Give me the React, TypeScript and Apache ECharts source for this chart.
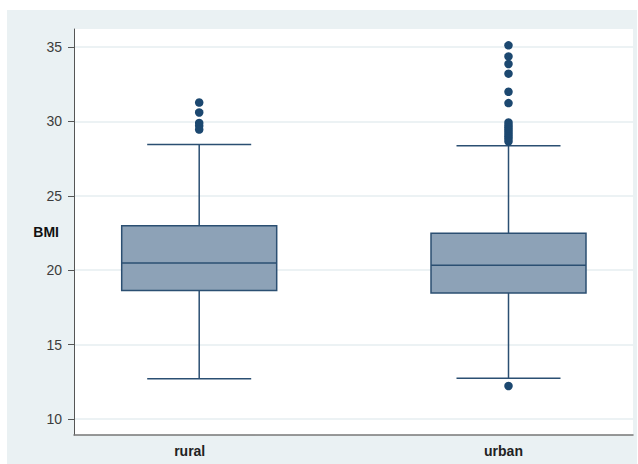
import React, { useEffect, useRef } from "react";
import * as echarts from "echarts";

const categories = ["rural", "urban"];
// [min whisker, Q1, median, Q3, max whisker]
const ruralBox = [12.71, 18.63, 20.49, 22.98, 28.45];
const urbanBox = [12.73, 18.47, 20.34, 22.49, 28.36];
const ruralOutliers = [31.27, 30.6, 29.9, 29.7, 29.45];
const urbanOutliers = [
  35.11, 34.37, 33.86, 33.21, 31.99, 31.23, 29.93, 29.75, 29.6, 29.45, 29.3,
  29.15, 29.0, 28.85, 28.65, 12.22,
];
const yTicks = [10, 15, 20, 25, 30, 35];
const yMin = 8.924;
const yMax = 36.21;

export default function App() {
  const ref = useRef<HTMLDivElement>(null);
  useEffect(() => {
    if (!ref.current) return;
    const chart = echarts.init(ref.current, null, { renderer: "svg" });
    const boxData = [ruralBox, urbanBox].map((b, i) => [i, ...b]);
    const outlierData = [
      ...ruralOutliers.map((v) => [0, v]),
      ...urbanOutliers.map((v) => [1, v]),
    ];
    const stroke = "#2b4f72";
    chart.setOption({
      animation: false,
      backgroundColor: "#eaf1f3",
      grid: [
        {
          left: 67,
          top: 19,
          width: 559,
          height: 406,
          show: true,
          backgroundColor: "#ffffff",
          borderWidth: 0,
        },
        { left: 192.2, top: 19, width: 309.3, height: 406 },
      ],
      xAxis: [
        {
          gridIndex: 0,
          type: "value",
          min: 0,
          max: 1,
          axisLine: { show: true, onZero: false, lineStyle: { color: "#777", width: 1.5 } },
          axisTick: { show: false },
          axisLabel: { show: false },
          splitLine: { show: false },
        },
        {
          gridIndex: 1,
          type: "category",
          data: categories,
          boundaryGap: false,
          axisLine: { show: false },
          axisTick: { show: false },
          splitLine: { show: false },
          axisLabel: {
            margin: 9,
            formatter: (v: string) => (v === "rural" ? `{a|${v}}` : `{b|${v}}`),
            rich: {
              a: {
                fontFamily: "Liberation Sans",
                fontWeight: "bold",
                fontSize: 14,
                color: "#222",
                padding: [0, 19, 0, 0],
              },
              b: {
                fontFamily: "Liberation Sans",
                fontWeight: "bold",
                fontSize: 14,
                color: "#222",
                padding: [0, 10, 0, 0],
              },
            },
          },
        },
      ],
      yAxis: [
        {
          gridIndex: 0,
          type: "value",
          min: yMin,
          max: yMax,
          name: "BMI",
          nameLocation: "middle",
          nameRotate: 0,
          nameGap: 15,
          nameMoveOverlap: false,
          nameTextStyle: {
            fontFamily: "Liberation Sans",
            fontWeight: "bold",
            fontSize: 14,
            color: "#111",
          },
          axisLine: { show: true, onZero: false, lineStyle: { color: "#555", width: 1 } },
          axisTick: {
            show: true,
            length: 6,
            customValues: yTicks,
            lineStyle: { color: "#555", width: 1 },
          },
          axisLabel: {
            customValues: yTicks,
            margin: 12,
            fontFamily: "Liberation Sans",
            fontSize: 14,
            color: "#3c3c3c",
            padding: [0, 0, 8, 0],
          },
          splitLine: { show: true, lineStyle: { color: "#e6eef1", width: 1.5 } },
        },
        {
          gridIndex: 1,
          type: "value",
          min: yMin,
          max: yMax,
          show: false,
          splitLine: { show: false },
        },
      ],
      series: [
        {
          type: "custom",
          xAxisIndex: 1,
          yAxisIndex: 1,
          data: boxData,
          renderItem: (params: any, api: any) => {
            const x = api.value(0);
            const lo = api.coord([x, api.value(1)]);
            const q1 = api.coord([x, api.value(2)]);
            const md = api.coord([x, api.value(3)]);
            const q3 = api.coord([x, api.value(4)]);
            const hi = api.coord([x, api.value(5)]);
            const cx = lo[0];
            const bw = 155;
            const ww = 104;
            const ls = { stroke, lineWidth: 1.5 };
            return {
              type: "group",
              children: [
                { type: "line", shape: { x1: cx, y1: hi[1], x2: cx, y2: q3[1] }, style: ls },
                { type: "line", shape: { x1: cx, y1: q1[1], x2: cx, y2: lo[1] }, style: ls },
                { type: "line", shape: { x1: cx - ww / 2, y1: hi[1], x2: cx + ww / 2, y2: hi[1] }, style: ls },
                { type: "line", shape: { x1: cx - ww / 2, y1: lo[1], x2: cx + ww / 2, y2: lo[1] }, style: ls },
                {
                  type: "rect",
                  shape: { x: cx - bw / 2, y: q3[1], width: bw, height: q1[1] - q3[1] },
                  style: { fill: "#8da2b7", stroke, lineWidth: 1.5 },
                },
                { type: "line", shape: { x1: cx - bw / 2, y1: md[1], x2: cx + bw / 2, y2: md[1] }, style: ls },
              ],
            };
          },
        },
        {
          type: "scatter",
          xAxisIndex: 1,
          yAxisIndex: 1,
          data: outlierData,
          symbol: "circle",
          symbolSize: 8.5,
          itemStyle: { color: "#1c4870", opacity: 1 },
        },
      ],
    });
    return () => chart.dispose();
  }, []);
  return (
    <div
      style={{
        position: "absolute",
        left: 0,
        top: 0,
        width: 638,
        height: 464,
        background: "#ffffff",
      }}
    >
      <div
        ref={ref}
        style={{ position: "absolute", left: 7, top: 10, width: 630, height: 454 }}
      />
    </div>
  );
}
